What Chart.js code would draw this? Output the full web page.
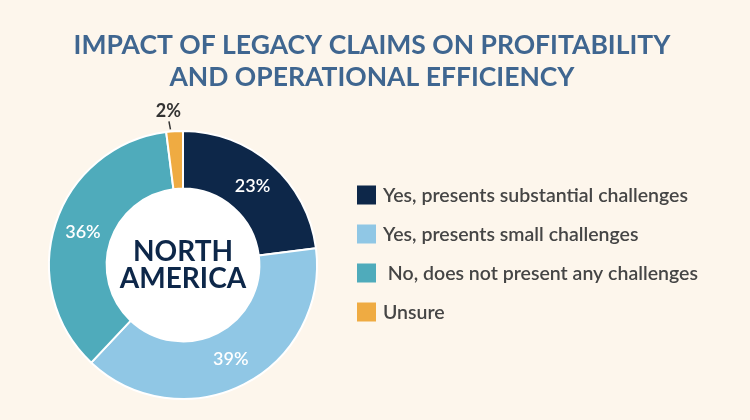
<!DOCTYPE html>
<html lang="en">
  <head>
    <meta charset="UTF-8" />
    <title>Impact of Legacy Claims</title>
    <style>
      html, body { margin: 0; padding: 0; background: #fdf6ec; }
      #wrap { width: 750px; height: 420px; }
    </style>
  </head>
  <body>
    <div id="wrap"><canvas id="myChart" width="750" height="420"></canvas></div>

    <script src="https://cdn.jsdelivr.net/npm/chart.js@4.4.0/dist/chart.umd.min.js"></script>
    <script>
      const titleLines = ["IMPACT OF LEGACY CLAIMS ON PROFITABILITY", "AND OPERATIONAL EFFICIENCY"];
      const centerLines = ["NORTH", "AMERICA"];
      const categories = [
        "Yes, presents substantial challenges",
        "Yes, presents small challenges",
        " No, does not present any challenges",
        "Unsure"
      ];
      const shares = [23, 39, 36, 2];
      const colors = ["#0d2749", "#90c7e5", "#4fabbb", "#efab42"];

      const FONT = "Lato, 'Noto Sans', sans-serif";

      // title, centre text, percent labels and legend
      const decorations = {
        id: "decorations",
        beforeDatasetsDraw(chart) {
          const ctx = chart.ctx;
          const arc = chart.getDatasetMeta(0).data[0];
          ctx.save();
          ctx.fillStyle = "#ffffff";
          ctx.beginPath();
          ctx.arc(arc.x, arc.y, arc.innerRadius, 0, Math.PI * 2);
          ctx.fill();
          ctx.restore();
        },
        afterDatasetsDraw(chart) {
          const ctx = chart.ctx;
          const meta = chart.getDatasetMeta(0);
          ctx.save();

          // title
          ctx.fillStyle = "#3f6690";
          ctx.font = "bold 26.5px " + FONT;
          ctx.textAlign = "center";
          ctx.textBaseline = "middle";
          titleLines.forEach((t, i) => ctx.fillText(t, 372, 45 + i * 32));

          // centre text
          const a0 = meta.data[0];
          ctx.fillStyle = "#0d2749";
          ctx.font = "bold 28px " + FONT;
          centerLines.forEach((t, i) => ctx.fillText(t, a0.x, a0.y - 13 + i * 27));

          // percent labels
          ctx.font = "600 18px " + FONT;
          meta.data.forEach((el, i) => {
            const mid = (el.startAngle + el.endAngle) / 2;
            const label = shares[i] + "%";
            if (shares[i] < 5) {
              const r1 = el.outerRadius + 2, r2 = el.outerRadius + 10, r3 = el.outerRadius + 20;
              ctx.strokeStyle = "#333333";
              ctx.lineWidth = 1.5;
              ctx.beginPath();
              ctx.moveTo(el.x + Math.cos(mid) * r1 - 4, el.y + Math.sin(mid) * r1);
              ctx.lineTo(el.x + Math.cos(mid) * r2 - 5, el.y + Math.sin(mid) * r2);
              ctx.stroke();
              ctx.fillStyle = "#333333";
              ctx.font = "bold 18px " + FONT;
              ctx.fillText(label, el.x + Math.cos(mid) * r3 - 5, el.y + Math.sin(mid) * r3);
            } else {
              const r = (el.innerRadius + el.outerRadius) / 2;
              ctx.fillStyle = "#ffffff";
              ctx.fillText(label, el.x + Math.cos(mid) * r, el.y + Math.sin(mid) * r);
            }
          });

          // legend
          ctx.textAlign = "left";
          ctx.font = "600 19.5px " + FONT;
          categories.forEach((c, i) => {
            const y = 195 + i * 39;
            ctx.fillStyle = colors[i];
            ctx.fillRect(357, y - 9.5, 19, 19);
            ctx.fillStyle = "#454545";
            ctx.fillText(c, 383, y + 1);
          });
          ctx.restore();
        }
      };

      new Chart(document.getElementById("myChart"), {
        type: "doughnut",
        data: {
          labels: categories,
          datasets: [{
            data: shares,
            backgroundColor: colors,
            borderColor: "#ffffff",
            borderWidth: 2
          }]
        },
        options: {
          responsive: false,
          animation: false,
          cutout: "57%",
          layout: { padding: { left: 48, right: 432, top: 130, bottom: 20 } },
          plugins: {
            legend: { display: false },
            title: { display: false },
            tooltip: { enabled: false }
          }
        },
        plugins: [decorations]
      });
    </script>
  </body>
</html>
